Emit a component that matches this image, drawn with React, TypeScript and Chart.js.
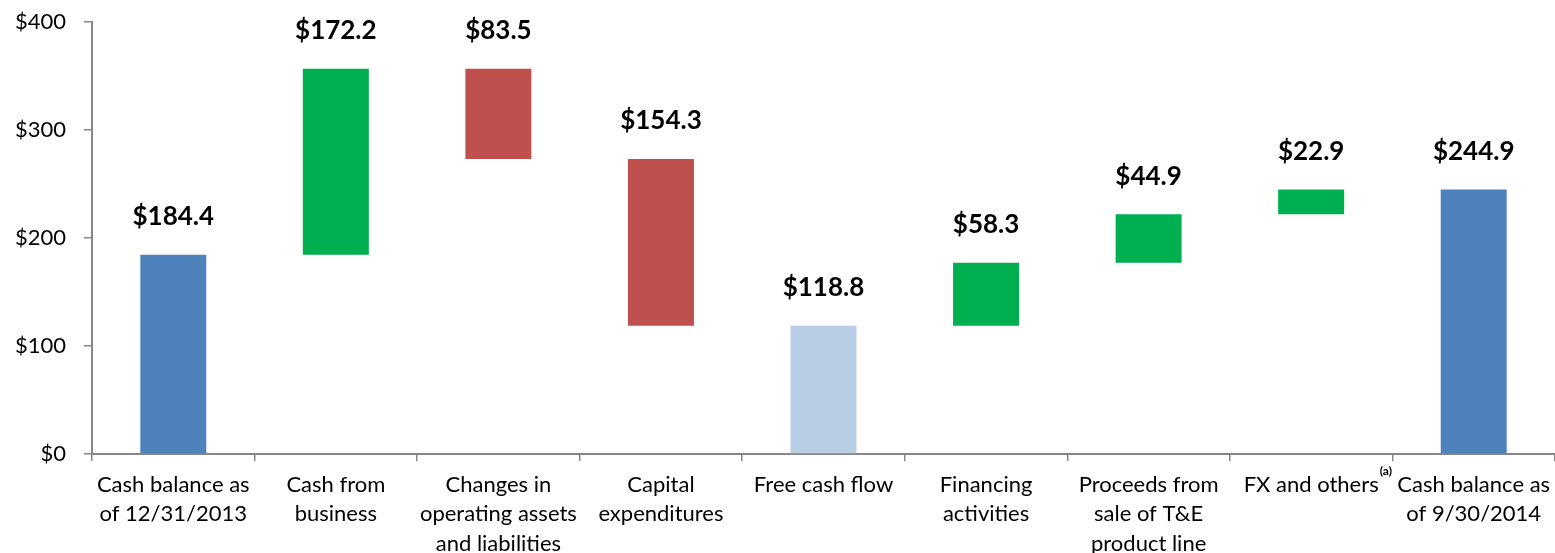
import React, { useEffect, useRef } from "react";
import { Chart, registerables } from "chart.js";

Chart.register(...registerables);

const categories: string[][] = [
  ["Cash balance as", "of 12/31/2013"],
  ["Cash from", "business"],
  ["Changes in", "operating assets", "and liabilities"],
  ["Capital", "expenditures"],
  ["Free cash flow"],
  ["Financing", "activities"],
  ["Proceeds from", "sale of T&E", "product line"],
  ["FX and others"],
  ["Cash balance as", "of 9/30/2014"],
];
const barStarts = [0, 184.4, 273.1, 118.8, 0, 118.8, 177.1, 222.0, 0];
const barEnds = [184.4, 356.6, 356.6, 273.1, 118.8, 177.1, 222.0, 244.9, 244.9];
const valueLabels = ["$184.4", "$172.2", "$83.5", "$154.3", "$118.8", "$58.3", "$44.9", "$22.9", "$244.9"];
const footnoteIndex = 7;
const footnoteText = "(a)";
const yTicks = [0, 100, 200, 300, 400];

const BLUE = "#4F81BD";
const GREEN = "#00B050";
const RED = "#C0504D";
const LIGHT = "#B9CDE5";
const barColors = [BLUE, GREEN, RED, RED, LIGHT, GREEN, GREEN, GREEN, BLUE];

const FONT = "Lato, 'Open Sans', sans-serif";
const AXIS = "#868686";
const TICK_SIZE = 22;

export default function App() {
  const ref = useRef<HTMLCanvasElement>(null);
  useEffect(() => {
    document.body.style.margin = "0";
    const labelsPlugin = {
      id: "wfLabels",
      afterDatasetsDraw(chart: any) {
        const ctx = chart.ctx;
        const meta = chart.getDatasetMeta(0);
        ctx.save();
        ctx.fillStyle = "#000";
        ctx.font = `bold 26px ${FONT}`;
        ctx.textAlign = "center";
        ctx.textBaseline = "middle";
        meta.data.forEach((el: any, i: number) => {
          const top = Math.min(el.y, el.base);
          ctx.fillText(valueLabels[i], el.x, top - 38);
        });
        const xs = chart.scales.x;
        const cx = xs.getPixelForValue(footnoteIndex);
        ctx.font = `${TICK_SIZE}px ${FONT}`;
        const w = ctx.measureText(categories[footnoteIndex][0]).width;
        ctx.font = `bold 12px ${FONT}`;
        ctx.textAlign = "left";
        ctx.textBaseline = "middle";
        ctx.fillText(footnoteText, cx + w / 2 + 1, xs.top + 17);
        ctx.restore();
      },
    };
    const chart = new Chart(ref.current!, {
      type: "bar",
      data: {
        labels: categories,
        datasets: [
          {
            data: barStarts.map((s, i) => [s, barEnds[i]]) as any,
            backgroundColor: barColors,
            borderWidth: 0,
            categoryPercentage: 1,
            barPercentage: 0.406,
          },
        ],
      },
      options: {
        animation: false,
        responsive: false,
        maintainAspectRatio: false,
        layout: { padding: { top: 22, left: 0, right: 0, bottom: 0 } },
        plugins: { legend: { display: false }, tooltip: { enabled: false } },
        scales: {
          x: {
            grid: {
              display: true,
              offset: true,
              drawOnChartArea: false,
              drawTicks: true,
              tickLength: 7,
              color: AXIS,
              lineWidth: 1.5,
            },
            border: { display: true, color: AXIS, width: 2 },
            ticks: {
              color: "#000",
              font: { family: FONT, size: TICK_SIZE, lineHeight: 1.34 },
              padding: 9,
              maxRotation: 0,
              autoSkip: false,
            },
            afterFit: (s: any) => {
              s.height = 99;
              s.paddingLeft = 0;
              s.paddingRight = 0;
            },
          },
          y: {
            min: 0,
            max: 400,
            afterBuildTicks: (s: any) => {
              s.ticks = yTicks.map((v) => ({ value: v }));
            },
            grid: {
              display: true,
              drawOnChartArea: false,
              drawTicks: true,
              tickLength: 8,
              color: AXIS,
              lineWidth: 1.5,
            },
            border: { display: true, color: AXIS, width: 2 },
            ticks: {
              color: "#000",
              font: { family: FONT, size: TICK_SIZE },
              padding: 18,
              callback: (v: any) => "$" + v,
            },
            afterFit: (s: any) => {
              s.width = 92;
              s.paddingTop = 0;
              s.paddingBottom = 0;
            },
          },
        },
      },
      plugins: [labelsPlugin],
    });
    return () => chart.destroy();
  }, []);
  return (
    <div style={{ width: 1555, height: 553 }}>
      <canvas ref={ref} width={1555} height={553} style={{ display: "block" }} />
    </div>
  );
}
